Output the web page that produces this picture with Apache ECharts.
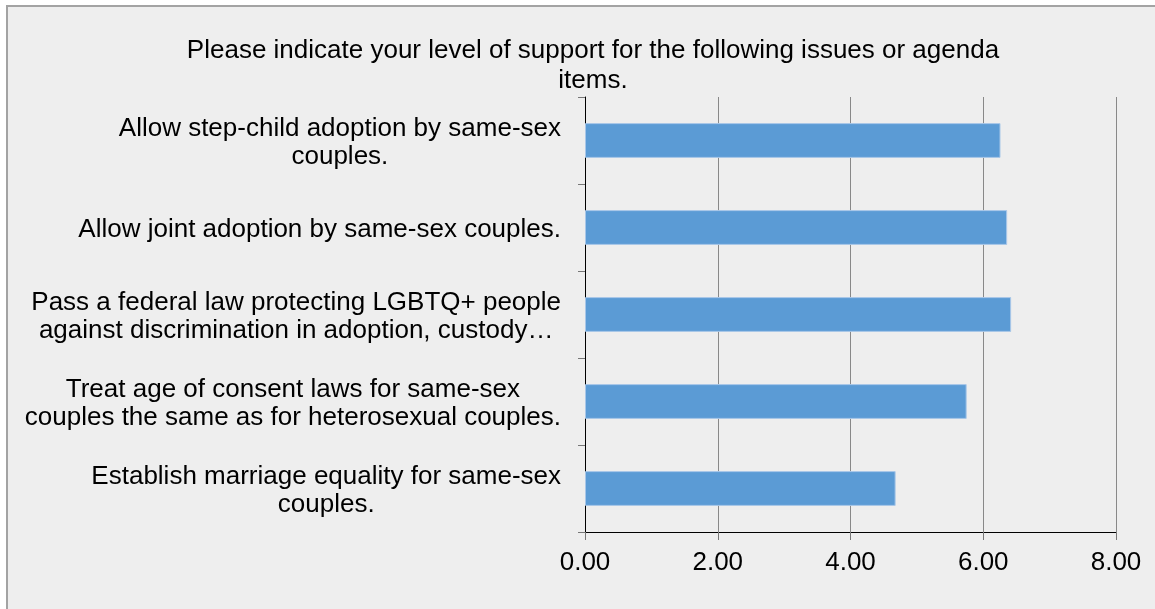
<!DOCTYPE html>
<html>
<head>
<meta charset="utf-8">
<script src="https://cdn.jsdelivr.net/npm/echarts@6/dist/echarts.min.js"></script>
<style>
  html, body { margin: 0; padding: 0; background: #fff; }
  #chart { width: 1155px; height: 609px; }
</style>
</head>
<body>
<div id="chart"></div>
<script>
// bottom to top, as the category axis draws them
const categories = [
  'Establish marriage equality for same-sex\ncouples.',
  'Treat age of consent laws for same-sex\ncouples the same as for heterosexual couples.',
  'Pass a federal law protecting LGBTQ+ people\nagainst discrimination in adoption, custody…',
  'Allow joint adoption by same-sex couples.',
  'Allow step-child adoption by same-sex\ncouples.'
]
const values = [4.68, 5.75, 6.42, 6.36, 6.26]
const titleText = 'Please indicate your level of support for the following issues or agenda\nitems.'

const font = 'Liberation Sans, Arial, sans-serif'

const myChart = echarts.init(document.getElementById('chart'))
myChart.setOption({
  animation: false,
  backgroundColor: '#ffffff',
  graphic: [
    {
      type: 'rect',
      z: -10,
      shape: { x: 7, y: 6, width: 1200, height: 700 },
      style: { fill: '#eeeeee', stroke: '#a3a3a3', lineWidth: 2 }
    }
  ],
  title: {
    text: titleText,
    left: 588,
    top: 31,
    textAlign: 'center',
    textStyle: {
      fontFamily: font,
      fontSize: 26,
      fontWeight: 'normal',
      color: '#000',
      lineHeight: 30
    }
  },
  grid: { left: 585, right: 39, top: 97, bottom: 77 },
  xAxis: {
    type: 'value',
    min: 0,
    max: 8,
    interval: 2,
    axisLine: { show: true, lineStyle: { color: '#000', width: 1 } },
    axisTick: { show: true, length: 8, lineStyle: { color: '#777' } },
    splitLine: { show: true, lineStyle: { color: '#888', width: 1 } },
    axisLabel: {
      margin: 18,
      color: '#000',
      fontFamily: font,
      fontSize: 26,
      formatter: v => v.toFixed(2)
    }
  },
  yAxis: {
    type: 'category',
    data: categories,
    axisLine: { show: true, lineStyle: { color: '#000', width: 1 } },
    axisTick: { show: true, length: 7, lineStyle: { color: '#777' } },
    axisLabel: {
      margin: 24,
      align: 'right',
      padding: [4, 0, 0, 0],
      // lines are centred inside the block, the block sits against the axis
      formatter: v => v.split('\n').map(l => '{c|' + l + '}').join('\n'),
      rich: {
        c: {
          align: 'center',
          color: '#000',
          fontFamily: font,
          fontSize: 26,
          lineHeight: 28
        }
      }
    }
  },
  series: [
    {
      type: 'bar',
      data: values,
      barWidth: '40%',
      itemStyle: { color: '#5b9bd5', borderColor: '#a9c7e8', borderWidth: 1 }
    }
  ]
})
</script>
</body>
</html>
